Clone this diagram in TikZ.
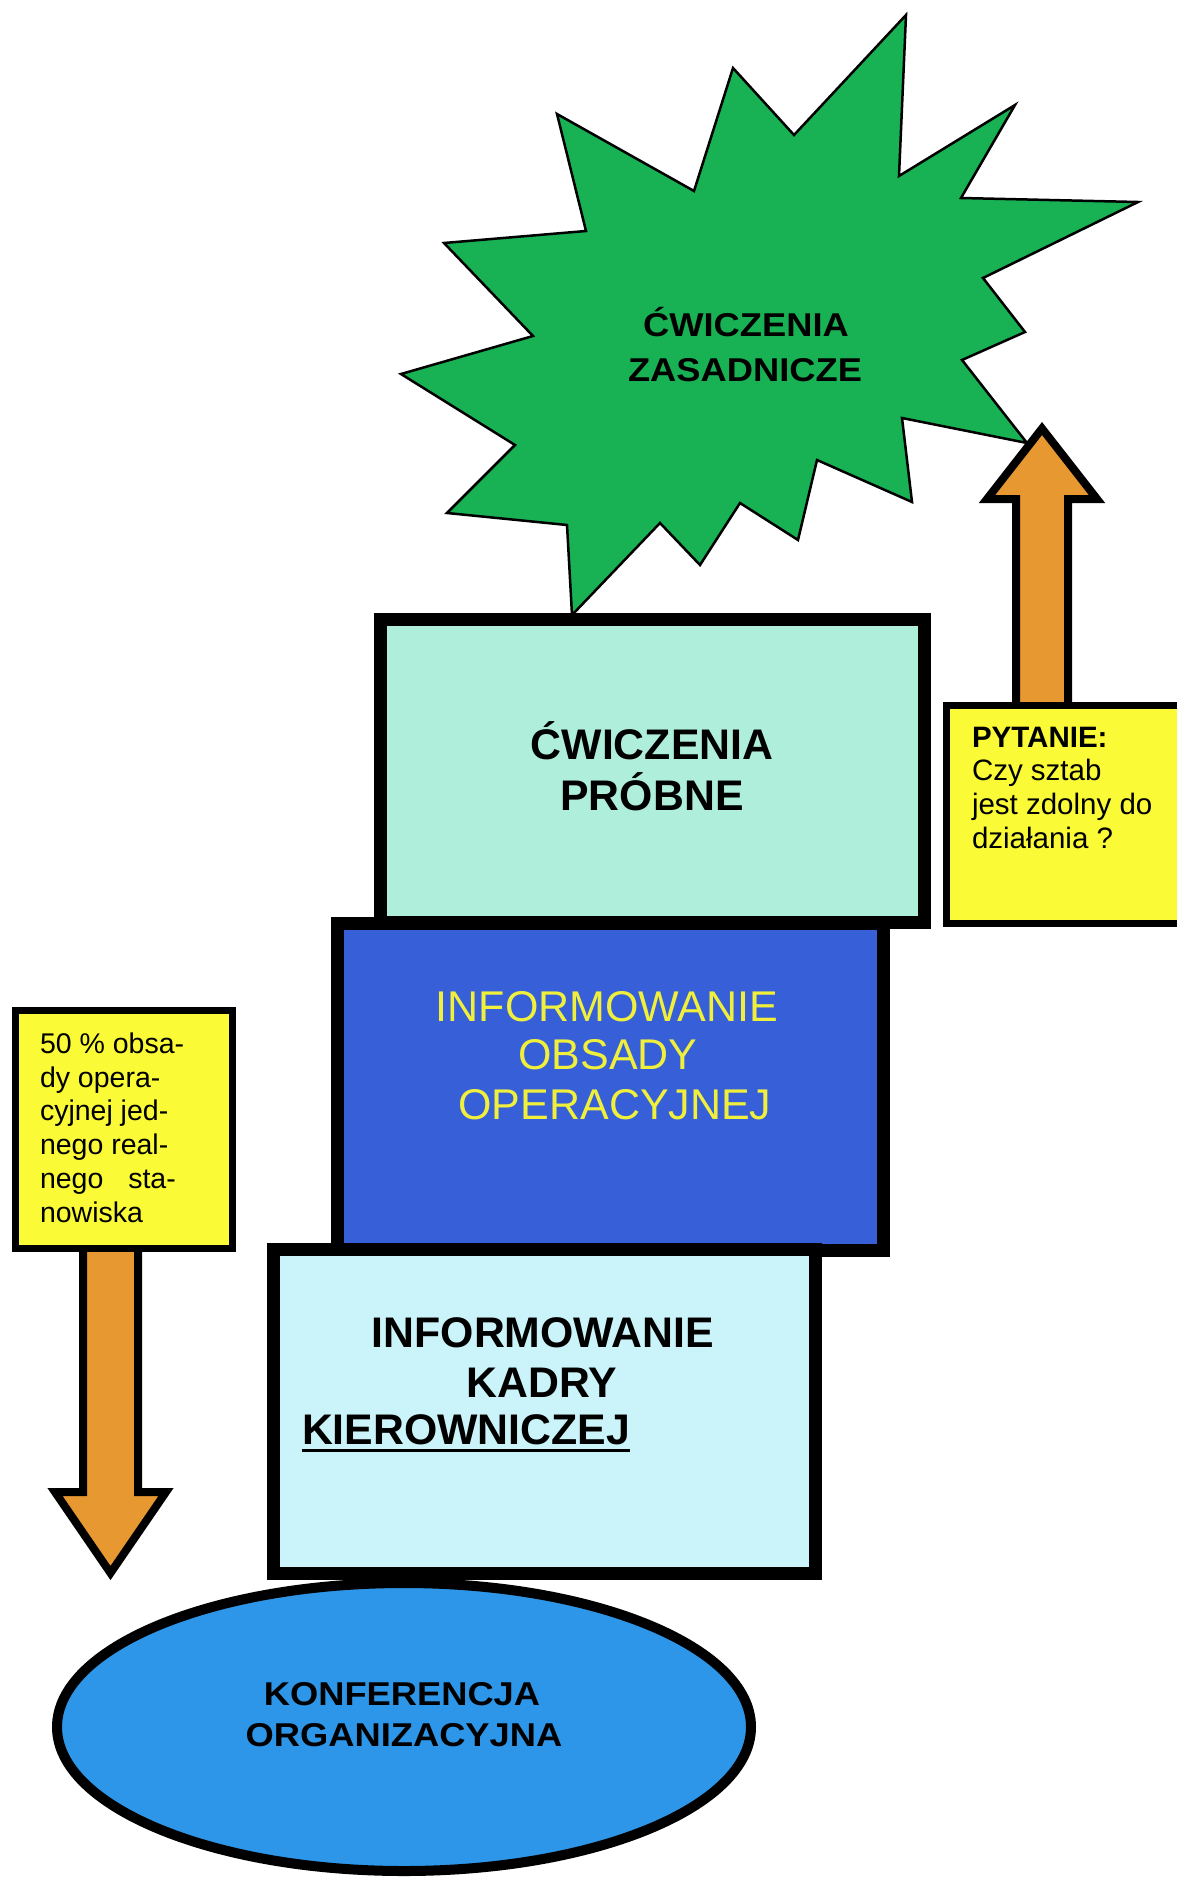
\documentclass[tikz,border=0pt]{standalone}
\usepackage{fontspec}
\setmainfont{Liberation Sans}
\newfontfamily\widefont[FakeStretch=1.1]{Liberation Sans}
\usetikzlibrary{shapes.geometric}
\definecolor{stargreen}{RGB}{24,178,84}
\definecolor{mint}{RGB}{174,238,218}
\definecolor{boxblue}{RGB}{55,95,215}
\definecolor{paleblue}{RGB}{202,244,249}
\definecolor{ellblue}{RGB}{45,150,232}
\definecolor{noteyellow}{RGB}{250,250,55}
\definecolor{txtyellow}{RGB}{240,240,60}
\definecolor{arroworange}{RGB}{232,152,48}
\begin{document}
\begin{tikzpicture}[x=1pt,y=-1pt,
  stagebox/.style={draw=black, line width=13pt, rectangle, inner sep=0pt, outer sep=0pt},
  notebox/.style={draw=black, line width=7pt, fill=noteyellow, rectangle, inner sep=0pt, outer sep=0pt},
  blockarrow/.style={draw=black, line width=8pt, fill=arroworange, line join=miter},
  lbl/.style={inner sep=0pt, outer sep=0pt, anchor=base},
  lblw/.style={inner sep=0pt, outer sep=0pt, anchor=base west},
  starfont/.style={font=\fontsize{33}{36}\selectfont\widefont\bfseries},
  bigbold/.style={font=\fontsize{42.8}{46}\selectfont\bfseries},
  bigreg/.style={font=\fontsize{43}{46}\selectfont},
  notefont/.style={font=\fontsize{29.5}{32}\selectfont},
  notefontl/.style={font=\fontsize{28.5}{32}\selectfont}]
\useasboundingbox (0,0) rectangle (1177,1879);

% star
\draw[fill=stargreen, draw=black, line width=2.5pt, line join=miter]
  (906,15) -- (899,176) -- (1015,105) -- (961,198) -- (1138,202) -- (983,278)
  -- (1025,332) -- (962,360) -- (1027,443) -- (902,418) -- (912,502) -- (817,460)
  -- (798,540) -- (740,503) -- (700,565) -- (660,523) -- (572,615) -- (567,525)
  -- (447,513) -- (515,445) -- (401,374) -- (533,336) -- (444,243) -- (586,231)
  -- (557,114) -- (694,191) -- (733,68) -- (794,135) -- cycle;
\node[lbl, starfont] (zas1) at (746,336) {ĆWICZENIA};
\node[lbl, starfont] (zas2) at (745,381) {ZASADNICZE};

% ellipse
\node[ellipse, draw=black, line width=10pt, fill=ellblue, minimum width=694pt, minimum height=288pt, inner sep=0pt] (konf) at (404,1727) {};
\node[lbl, starfont] (konf1) at (402,1705) {KONFERENCJA};
\node[lbl, starfont] (konf2) at (404,1746) {ORGANIZACYJNA};

% stage boxes
\node[stagebox, fill=mint, minimum width=544pt, minimum height=303pt] (probne) at (652.5,771) {};
\node[stagebox, fill=boxblue, minimum width=546pt, minimum height=327pt] (obsada) at (610.5,1087) {};
\node[stagebox, fill=paleblue, minimum width=542pt, minimum height=324pt] (kadra) at (544.5,1411.5) {};

\node[lbl, bigbold] (pr1) at (652,759) {ĆWICZENIA};
\node[lbl, bigbold] (pr2) at (652,810) {PRÓBNE};

\node[lbl, bigreg, text=txtyellow] (ob1) at (607,1021) {INFORMOWANIE};
\node[lbl, bigreg, text=txtyellow] (ob2) at (608,1069) {OBSADY};
\node[lbl, bigreg, text=txtyellow] (ob3) at (615,1119) {OPERACYJNEJ};

\node[lbl, bigbold] (kd1) at (543,1347) {INFORMOWANIE};
\node[lbl, bigbold] (kd2) at (542,1397) {KADRY};
\node[lblw, bigbold] (kd3) at (302,1444) {KIEROWNICZEJ};
\draw[line width=3pt] ([yshift=-6pt]kd3.base west) -- ([yshift=-6pt]kd3.base east);

% up arrow (drawn before its note box)
\draw[blockarrow] (1016,706) -- (1016,499) -- (987,499) -- (1042,428.5) -- (1097,499) -- (1068,499) -- (1068,706);
\node[notebox, minimum width=260pt, minimum height=218pt] (pyt) at (1076.5,814.5) {};
\node[lblw, font=\fontsize{29.5}{32}\selectfont\bfseries] (pyt1) at (972,747) {PYTANIE:};
\node[lblw, notefont] (pyt2) at (972,780) {Czy sztab};
\node[lblw, notefont] (pyt3) at (972,814) {jest zdolny do};
\node[lblw, notefont] (pyt4) at (972,848) {działania ?};

% down arrow (drawn before its note box)
\draw[blockarrow] (83,1246) -- (83,1492) -- (55,1492) -- (110.5,1573) -- (166,1492) -- (138,1492) -- (138,1246);
\node[notebox, minimum width=217pt, minimum height=238pt] (proc) at (124,1129.5) {};
\node[lblw, notefontl] (pr50a) at (40,1053) {50 \% obsa-};
\node[lblw, notefontl] (pr50b) at (40,1087) {dy opera-};
\node[lblw, notefontl] (pr50c) at (40,1120) {cyjnej jed-};
\node[lblw, notefontl] (pr50d) at (40,1154) {nego real-};
\node[lblw, notefontl] (pr50e) at (40,1188) {nego\hspace{17pt} sta-};
\node[lblw, notefontl] (pr50f) at (40,1222) {nowiska};
\end{tikzpicture}
\end{document}
